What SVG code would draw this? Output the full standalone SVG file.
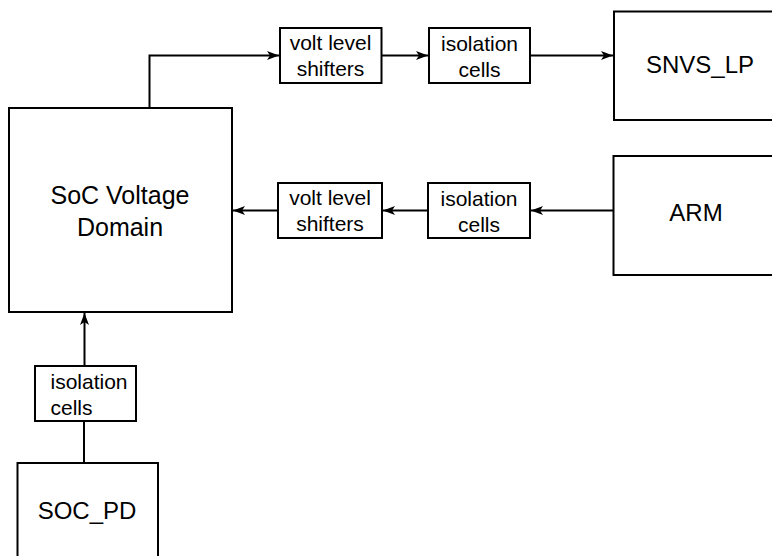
<svg xmlns="http://www.w3.org/2000/svg" width="772" height="556" viewBox="0 0 772 556">
<style>
.box{fill:#fff;stroke:#000;stroke-width:2}
.big{font-family:"Liberation Sans",Arial,sans-serif;font-size:24px;fill:#000;text-anchor:middle}
.big2{font-family:"Liberation Sans",Arial,sans-serif;font-size:25px;fill:#000;text-anchor:middle}
.sm{font-family:"Liberation Sans",Arial,sans-serif;font-size:21px;fill:#000;text-anchor:middle}
.smL{font-family:"Liberation Sans",Arial,sans-serif;font-size:21px;fill:#000}
.ln{fill:none;stroke:#000;stroke-width:2}
</style>
<defs>
<marker id="ah" viewBox="0 0 12 9" refX="12" refY="4.5" markerWidth="12" markerHeight="9" markerUnits="userSpaceOnUse" orient="auto">
<path d="M0,0 L12,4.5 L0,9 L3,4.5 Z" fill="#000"/>
</marker>
</defs>
<rect width="772" height="556" fill="#fff"/>
<g id="connectors">
<path class="ln" d="M149.5,108 V55.5 H279" marker-end="url(#ah)"/>
<path class="ln" d="M381.5,55.5 H428" marker-end="url(#ah)"/>
<path class="ln" d="M530,55.5 H613" marker-end="url(#ah)"/>
<path class="ln" d="M613,210.5 H531" marker-end="url(#ah)"/>
<path class="ln" d="M428,210.5 H383" marker-end="url(#ah)"/>
<path class="ln" d="M278,210.5 H233" marker-end="url(#ah)"/>
<path class="ln" d="M84,463 V421"/>
<path class="ln" d="M84.5,366 V313" marker-end="url(#ah)"/>
</g>
<g id="soc">
<rect class="box" x="9" y="108" width="223" height="204"/>
<text class="big2" x="120" y="204">SoC Voltage</text>
<text class="big2" x="120" y="236">Domain</text>
</g>
<g id="vls1">
<rect class="box" x="280" y="28" width="101.5" height="55"/>
<text class="sm" x="330.5" y="50">volt level</text>
<text class="sm" x="330.5" y="76">shifters</text>
</g>
<g id="iso1">
<rect class="box" x="429" y="28" width="101" height="55"/>
<text class="sm" x="479.5" y="50.5">isolation</text>
<text class="sm" x="479.5" y="76.5">cells</text>
</g>
<g id="snvs">
<rect class="box" x="614" y="11.5" width="170" height="108.5"/>
<text class="big" x="700" y="72.5">SNVS_LP</text>
</g>
<g id="arm">
<rect class="box" x="613.5" y="156" width="170" height="119"/>
<text class="big" x="696" y="220.5">ARM</text>
</g>
<g id="vls2">
<rect class="box" x="278" y="183" width="104" height="55"/>
<text class="sm" x="330" y="205">volt level</text>
<text class="sm" x="330" y="231">shifters</text>
</g>
<g id="iso2">
<rect class="box" x="428" y="183" width="102" height="55"/>
<text class="sm" x="479" y="205.5">isolation</text>
<text class="sm" x="479" y="231.5">cells</text>
</g>
<g id="iso3">
<rect class="box" x="35" y="366" width="101" height="55"/>
<text class="smL" x="50.5" y="388.5">isolation</text>
<text class="smL" x="50.5" y="415">cells</text>
</g>
<g id="socpd">
<rect class="box" x="17.5" y="463" width="140.5" height="110"/>
<text class="big" x="87" y="518.5">SOC_PD</text>
</g>
</svg>
